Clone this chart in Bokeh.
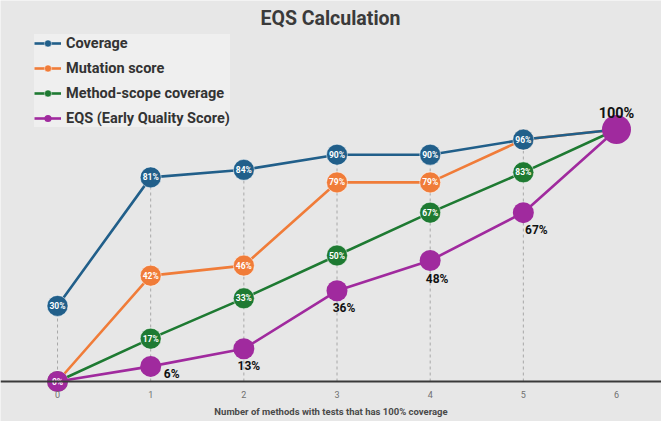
from bokeh.plotting import figure
from bokeh.models import (ColumnDataSource, Range1d, Legend, LegendItem, Label,
                          FixedTicker)
from bokeh.core.properties import value
from bokeh.embed import file_html
from bokeh.resources import INLINE

# ---- data ----
methods = [0, 1, 2, 3, 4, 5, 6]
coverage = [30, 81, 84, 90, 90, 96, 100]
mutation = [0, 42, 46, 79, 79, 96, 100]
method_scope = [0, 17, 33, 50, 67, 83, 100]
eqs = [0, 6, 13, 36, 48, 67, 100]
series_names = ["Coverage", "Mutation score", "Method-scope coverage", "EQS (Early Quality Score)"]
title_text = "EQS Calculation"
x_label = "Number of methods with tests that has 100% coverage"

# ---- styles ----
colors = ["#215f8a", "#f07c39", "#1e7a32", "#a02a9e"]
FONT = "Roboto"
BG = "#e7e7e7"

W, H = 661, 421
p = figure(width=W, height=H, output_backend="svg", toolbar_location=None,
           x_range=Range1d(-0.612, 6.483), y_range=Range1d(-15.87, 151.19),
           min_border=0, min_border_left=0, min_border_right=0,
           min_border_top=0, min_border_bottom=0)
p.background_fill_color = BG
p.border_fill_color = BG
p.outline_line_color = None
p.xgrid.visible = False
p.ygrid.visible = False
p.yaxis.visible = False

ax = p.xaxis[0]
ax.fixed_location = 0
ax.ticker = FixedTicker(ticks=methods)
ax.axis_line_color = "#3a3a3a"
ax.axis_line_width = 2
ax.major_tick_line_color = None
ax.minor_tick_line_color = None
ax.major_label_text_color = "#707070"
ax.major_label_text_font = FONT
ax.major_label_text_font_size = "9px"
ax.major_label_standoff = 3
ax.axis_label = x_label
ax.axis_label_text_font = FONT
ax.axis_label_text_font_size = "9.5px"
ax.axis_label_text_font_style = "bold"
ax.axis_label_text_color = "#4a4a4a"
ax.axis_label_standoff = 5

# drop lines
top_vals = [max(a, b, c, d) for a, b, c, d in zip(coverage, mutation, method_scope, eqs)]
p.segment(x0=methods[:-1], y0=[0] * 6, x1=methods[:-1], y1=top_vals[:-1],
          line_color="#a8a8a8", line_width=1, line_dash="3 3")

def lbl(vals):
    return [f"{v}%" for v in vals]

order = [(mutation, 1), (coverage, 0), (method_scope, 2)]
rend = {}
for vals, i in order:
    src = ColumnDataSource(dict(x=methods, y=vals, t=lbl(vals)))
    ln = p.line("x", "y", source=src, line_color=colors[i], line_width=2.6)
    sc = p.scatter("x", "y", source=src, size=21, fill_color=colors[i],
                   line_color="white", line_alpha=0.5, line_width=1)
    rend[i] = (ln, sc)

# EQS
eqs_sizes = [21, 21, 21, 21, 21, 21, 29]
src_e = ColumnDataSource(dict(x=methods, y=eqs, t=lbl(eqs), s=eqs_sizes))
ln_e = p.line("x", "y", source=src_e, line_color=colors[3], line_width=2.6)
sc_e = p.scatter("x", "y", source=src_e, size="s", fill_color=colors[3], line_color=None)
rend[3] = (ln_e, sc_e)

# inner white labels
for vals, idx in [(coverage, range(0, 6)), (mutation, range(1, 5)), (method_scope, range(1, 6))]:
    s = ColumnDataSource(dict(x=[methods[k] for k in idx], y=[vals[k] for k in idx],
                              t=[f"{vals[k]}%" for k in idx]))
    p.text("x", "y", text="t", source=s, text_color="white", text_font=value(FONT),
           text_font_style="bold", text_font_size="8.5px", text_align="center",
           text_baseline="middle")
s0 = ColumnDataSource(dict(x=[methods[0]], y=[eqs[0]], t=[f"{eqs[0]}%"]))
p.text("x", "y", text="t", source=s0, text_color="white", text_font=value(FONT),
       text_font_style="bold", text_font_size="8.5px", text_align="center",
       text_baseline="middle")

# EQS outer labels
eqs_dx = [21, 5, 7, 7, 13]
eqs_dy = [8, 17, 17, 18, 17]
se = ColumnDataSource(dict(x=methods[1:6], y=eqs[1:6], t=lbl(eqs[1:6]),
                           dx=eqs_dx, dy=eqs_dy))
p.text("x", "y", text="t", source=se, x_offset="dx", y_offset="dy",
       text_color="#111111", text_font=value(FONT), text_font_style="bold",
       text_font_size="12px", text_align="center", text_baseline="middle")
p.add_layout(Label(x=methods[6], y=eqs[6], text=f"{eqs[6]}%", y_offset=16,
                   text_font=FONT, text_font_style="bold", text_font_size="14.5px",
                   text_color="#111111", text_align="center", text_baseline="middle"))

# title
p.add_layout(Label(x=2.93, y=144, text=title_text, text_font=FONT, text_font_style="bold",
                   text_font_size="19.5px", text_color="#3a3a3a", text_align="center",
                   text_baseline="middle"))

legend = Legend(items=[LegendItem(label=series_names[i], renderers=list(rend[i])) for i in range(4)],
                location="top_left", margin=34, padding=8, spacing=7,
                label_height=18, glyph_height=18, glyph_width=27, label_standoff=5,
                background_fill_color="#f1f1f1", background_fill_alpha=0.8,
                border_line_color=None, label_text_font=FONT,
                label_text_font_style="bold", label_text_font_size="14.5px",
                label_text_color="#333333")
p.add_layout(legend)

open("out.html", "w").write(file_html(p, INLINE))
